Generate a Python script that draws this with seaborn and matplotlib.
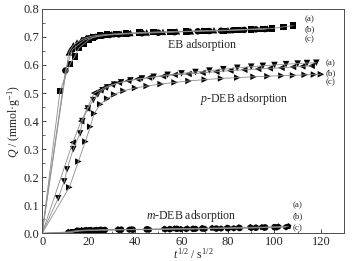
import numpy as np
import pandas as pd
import matplotlib
matplotlib.use('Agg')
import matplotlib.pyplot as plt
import seaborn as sns

# ---- data: t^(1/2) in s^(1/2), Q in mmol/g ----
# EB
eb_a_t = [0, 7.7, 12, 14.1, 15.8, 18, 20, 22, 25, 28, 32, 36, 42, 48, 55, 62, 70, 78, 84, 90, 95, 99, 104, 108]
eb_a_q = [0, 0.507, 0.603, 0.631, 0.66, 0.675, 0.69, 0.698, 0.705, 0.708, 0.71, 0.712, 0.715, 0.717, 0.718, 0.72, 0.722, 0.722, 0.725, 0.727, 0.728, 0.73, 0.736, 0.74]
eb_b_t = [0, 11.5, 13.4, 15, 17, 19, 21, 24, 27, 30, 34, 38, 45, 52, 58, 64, 69, 74, 80, 86, 90, 94, 97]
eb_b_q = [0, 0.645, 0.67, 0.68, 0.69, 0.697, 0.702, 0.706, 0.708, 0.71, 0.712, 0.714, 0.716, 0.718, 0.72, 0.72, 0.722, 0.724, 0.724, 0.726, 0.728, 0.729, 0.73]
eb_c_t = [0, 10, 13, 16, 18, 20, 23, 26, 29, 33, 37, 43, 50, 57, 63, 67, 72, 77, 82, 87, 92, 96]
eb_c_q = [0, 0.58, 0.655, 0.675, 0.688, 0.695, 0.70, 0.704, 0.707, 0.709, 0.711, 0.713, 0.715, 0.717, 0.719, 0.72, 0.721, 0.722, 0.724, 0.725, 0.727, 0.728]

# p-DEB
pd_a_t = [0, 6.9, 9.5, 10.7, 13.4, 16.3, 17.3, 19.7, 22, 24, 26, 28, 31, 34, 38, 43, 48, 54, 60, 66, 72, 78, 84, 90, 95, 100, 105, 110, 114, 118]
pd_a_q = [0, 0.125, 0.185, 0.228, 0.30, 0.356, 0.40, 0.445, 0.475, 0.495, 0.51, 0.52, 0.53, 0.538, 0.545, 0.552, 0.558, 0.565, 0.57, 0.575, 0.58, 0.585, 0.59, 0.594, 0.597, 0.60, 0.603, 0.605, 0.607, 0.608]
pd_b_t = [0, 13.2, 16.8, 19.4, 22.4, 25, 27, 30, 33, 37, 41, 46, 52, 57, 63, 69, 75, 81, 87, 93, 98, 103, 108, 112, 116]
pd_b_q = [0, 0.324, 0.40, 0.445, 0.50, 0.51, 0.52, 0.53, 0.537, 0.544, 0.55, 0.555, 0.56, 0.565, 0.568, 0.572, 0.576, 0.58, 0.583, 0.586, 0.588, 0.59, 0.593, 0.595, 0.597]
pd_c_t = [0, 11.7, 15.6, 18.6, 20.7, 22.4, 25, 28, 31, 35, 40, 45, 51, 57, 63, 70, 77, 84, 91, 97, 103, 108, 113, 117, 120]
pd_c_q = [0, 0.164, 0.256, 0.327, 0.38, 0.427, 0.46, 0.48, 0.495, 0.508, 0.518, 0.525, 0.532, 0.538, 0.543, 0.548, 0.552, 0.555, 0.558, 0.56, 0.562, 0.563, 0.565, 0.566, 0.567]

# m-DEB
md_a_t = [0, 11.3, 14.8, 17, 19.1, 21.2, 23.4, 25.5, 32.6, 38.3, 45.4, 52.6, 57, 62.5, 68.9, 73.2, 79.6, 84.6, 89.6, 94.6, 101.7, 106]
md_a_q = [0, 0.005, 0.01, 0.011, 0.012, 0.012, 0.012, 0.013, 0.014, 0.014, 0.015, 0.016, 0.017, 0.017, 0.018, 0.019, 0.02, 0.021, 0.022, 0.022, 0.024, 0.025]
md_b_t = [0, 12.5, 16, 18, 20, 22.3, 24.5, 26.5, 33, 37.5, 46, 53, 59.7, 62, 66.1, 70, 77, 82.5, 90, 95.5, 101, 105]
md_b_q = [0, 0.004, 0.008, 0.009, 0.01, 0.01, 0.011, 0.011, 0.012, 0.013, 0.013, 0.014, 0.015, 0.015, 0.016, 0.016, 0.017, 0.018, 0.019, 0.02, 0.021, 0.022]
md_c_t = [0, 13, 15.5, 18.5, 20.5, 23, 25, 27, 34, 39, 45, 55, 58, 65, 69, 75, 80, 85, 92, 96, 100]
md_c_q = [0, 0.004, 0.009, 0.01, 0.011, 0.011, 0.012, 0.012, 0.013, 0.013, 0.014, 0.015, 0.016, 0.016, 0.017, 0.017, 0.018, 0.019, 0.02, 0.021, 0.022]

series = {
    'EB a': (eb_a_t, eb_a_q, 's'), 'EB b': (eb_b_t, eb_b_q, '^'), 'EB c': (eb_c_t, eb_c_q, 'o'),
    'pDEB a': (pd_a_t, pd_a_q, 'v'), 'pDEB b': (pd_b_t, pd_b_q, '<'), 'pDEB c': (pd_c_t, pd_c_q, '>'),
    'mDEB a': (md_a_t, md_a_q, 'p'), 'mDEB b': (md_b_t, md_b_q, 'h'), 'mDEB c': (md_c_t, md_c_q, 'o'),
}

rows = []
for name, (tt, qq, m) in series.items():
    for t, q in zip(tt, qq):
        rows.append((name, t, q))
df = pd.DataFrame(rows, columns=['series', 't', 'Q'])
marker_map = {name: v[2] for name, v in series.items()}

sns.set_style('ticks')
plt.rcParams['font.family'] = ['Liberation Serif', 'DejaVu Serif']
plt.rcParams['mathtext.fontset'] = 'custom'
plt.rcParams['mathtext.rm'] = 'Liberation Serif'
plt.rcParams['mathtext.it'] = 'Liberation Serif:italic'

fig = plt.figure(figsize=(3.57, 2.61), dpi=100)
ax = fig.add_axes([0.118, 0.106, 0.846, 0.86])

sns.lineplot(data=df, x='t', y='Q', units='series', estimator=None, sort=False,
             color='0.55', lw=0.6, ax=ax, legend=False)
sns.scatterplot(data=df[df.t > 0], x='t', y='Q', style='series', markers=marker_map,
                color='k', s=22, linewidth=0, ax=ax, legend=False)

ax.set_xlim(0, 130)
ax.set_ylim(0, 0.8)
ax.set_xticks(np.arange(0, 121, 20))
ax.set_xticks(np.arange(10, 131, 20), minor=True)
ax.set_yticks(np.arange(0, 0.81, 0.1))
ax.set_yticks(np.arange(0.05, 0.8, 0.1), minor=True)
ax.yaxis.set_major_formatter(matplotlib.ticker.FormatStrFormatter('%.1f'))
ax.tick_params(direction='in', length=3, width=0.6, labelsize=9, pad=2)
ax.tick_params(which='minor', direction='in', length=1.8, width=0.5)
for s in ax.spines.values():
    s.set_linewidth(0.7)
    s.set_color('0.3')

ax.set_xlabel('$t^{1/2}$ / s$^{1/2}$', fontsize=8.5, labelpad=-1)
ax.set_ylabel('$Q$ / (mmol·g$^{-1}$)', fontsize=8.5, labelpad=0)

ax.text(69, 0.67, 'EB adsorption', fontsize=8.5, ha='center', va='center')
ax.text(87, 0.48, '$p$-DEB adsorption', fontsize=8.5, ha='center', va='center')
ax.text(64, 0.062, '$m$-DEB adsorption', fontsize=8.5, ha='center', va='center')

for lbl, y in zip(['(a)', '(b)', '(c)'], [0.762, 0.727, 0.692]):
    ax.text(113, y, lbl, fontsize=6.5, ha='left', va='center')
for lbl, y in zip(['(a)', '(b)', '(c)'], [0.606, 0.572, 0.537]):
    ax.text(122, y, lbl, fontsize=6.5, ha='left', va='center')
for lbl, y in zip(['(a)', '(b)', '(c)'], [0.100, 0.060, 0.020]):
    ax.text(108, y, lbl, fontsize=6.5, ha='left', va='center')

fig.savefig('out.png', dpi=100)
